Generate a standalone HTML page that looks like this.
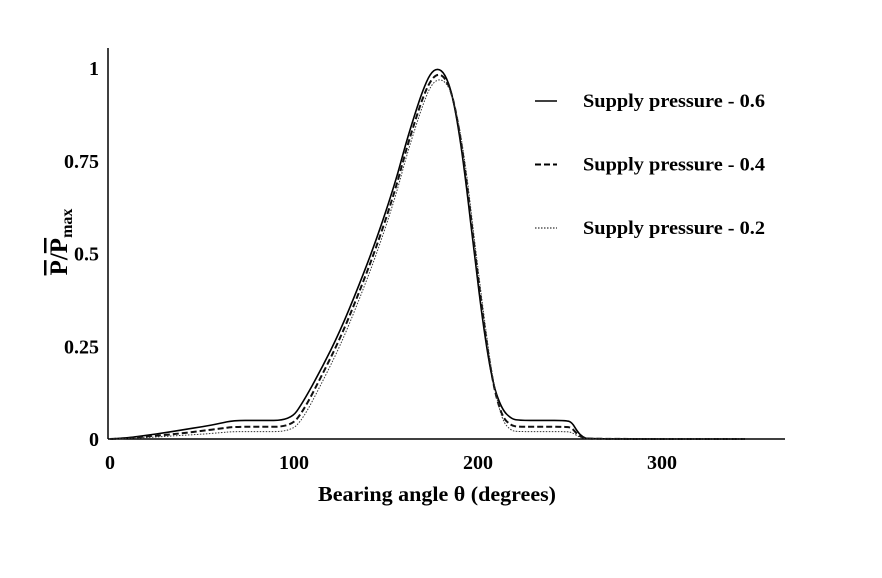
<!DOCTYPE html>
<html><head><meta charset="utf-8"><style>
html,body{margin:0;padding:0;background:#fff;width:882px;height:578px;overflow:hidden}
text{font-family:"Liberation Serif",serif;font-weight:bold;fill:#000}
</style></head><body>
<svg id="chart" width="882" height="578">
<g id="axes"></g><g id="series"></g><g id="legend"></g>
</svg>
<script>
const angles=[0,10,20,30,40,50,60,67,80,98,105,115,125,135,145,155,161,166,170,174,178,182,186,190,194,198,203,208,213,218,222,235,248,251,254,257,260,345];
const solid =[0,0.003,0.01,0.017,0.025,0.033,0.042,0.05,0.05,0.05,0.1,0.19,0.29,0.41,0.54,0.69,0.8,0.88,0.94,0.985,1.0,0.985,0.93,0.82,0.67,0.5,0.3,0.15,0.08,0.055,0.05,0.05,0.05,0.045,0.02,0.005,0,0];
const dashed=[0,0.002,0.007,0.011,0.016,0.022,0.028,0.033,0.033,0.033,0.075,0.17,0.27,0.39,0.52,0.67,0.78,0.86,0.92,0.965,0.985,0.975,0.93,0.83,0.69,0.52,0.32,0.15,0.06,0.036,0.033,0.033,0.033,0.03,0.012,0.003,0,0];
const dotted=[0,0.001,0.004,0.007,0.01,0.013,0.017,0.02,0.02,0.02,0.055,0.15,0.25,0.37,0.5,0.65,0.76,0.84,0.9,0.95,0.97,0.965,0.93,0.84,0.71,0.54,0.34,0.16,0.05,0.022,0.02,0.02,0.02,0.018,0.008,0.002,0,0];
const xTicks=[0,100,200,300];
const yTicks=[0,0.25,0.5,0.75,1];
const yTickLabels=["0","0.25","0.5","0.75","1"];
const legendLabels=["Supply pressure - 0.6","Supply pressure - 0.4","Supply pressure - 0.2"];
const NS="http://www.w3.org/2000/svg";
const X=a=>110+a*1.84, Y=v=>439-v*371;
function mk(tag,attrs,parent,txt){const e=document.createElementNS(NS,tag);for(const k in attrs)e.setAttribute(k,attrs[k]);if(txt!==undefined)e.textContent=txt;parent.appendChild(e);return e;}
const ax=document.getElementById('axes');
let e=mk('line',{x1:108,y1:48,x2:108,y2:439,stroke:'#000','stroke-width':1.5},ax);


e=mk('line',{x1:108,y1:439,x2:785,y2:439,stroke:'#000','stroke-width':1.5},ax);


xTicks.forEach(t=>{const el=mk('text',{x:X(t),y:469,'font-size':20,'text-anchor':'middle'},ax,String(t));

});
yTicks.forEach((t,i)=>{const el=mk('text',{x:99,y:Y(t)+7,'font-size':20,'text-anchor':'end'},ax,yTickLabels[i]);

});
e=mk('text',{x:318,y:501,'font-size':21,textLength:238,lengthAdjust:'spacingAndGlyphs'},ax,'Bearing angle θ (degrees)');


const yt=mk('text',{transform:'translate(67,242) rotate(-90)','font-size':25,'text-anchor':'middle'},ax);


yt.innerHTML='<tspan text-decoration="overline">P</tspan>/<tspan text-decoration="overline">P</tspan><tspan font-size="16" dy="5">max</tspan>';
const ser=document.getElementById('series');
const styles=[{w:1.6,d:''},{w:2,d:'6,3'},{w:1,d:'1.5,1.5'}];
const names=['series-supply-0-6','series-supply-0-4','series-supply-0-2'];
[solid,dashed,dotted].forEach((s,i)=>{
 const pts=angles.map((a,j)=>[X(a),Y(s[j])]);
 let d='M'+pts[0][0].toFixed(1)+','+pts[0][1].toFixed(1);
 for(let j=1;j<pts.length-1;j++){const m=[(pts[j][0]+pts[j+1][0])/2,(pts[j][1]+pts[j+1][1])/2];
  d+=' Q'+pts[j][0].toFixed(1)+','+pts[j][1].toFixed(1)+' '+m[0].toFixed(1)+','+m[1].toFixed(1);}
 const L=pts[pts.length-1]; d+=' L'+L[0].toFixed(1)+','+L[1].toFixed(1);
 const p=mk('path',{d:d,fill:'none',stroke:i==0?'#000':(i==1?'#111':'#333'),'stroke-width':styles[i].w,'stroke-dasharray':styles[i].d,'stroke-linejoin':'round'},ser);
 
 
});
const lg=document.getElementById('legend');
legendLabels.forEach((l,i)=>{const y=101+i*63.5;
 const ln=mk('line',{x1:535,y1:y,x2:557,y2:y,stroke:'#000','stroke-width':styles[i].w,'stroke-dasharray':styles[i].d},lg);
 
 
 const t=mk('text',{x:583,y:y+6,'font-size':19,textLength:182,lengthAdjust:'spacingAndGlyphs'},lg,l);
 
 
});
</script>
</body></html>
